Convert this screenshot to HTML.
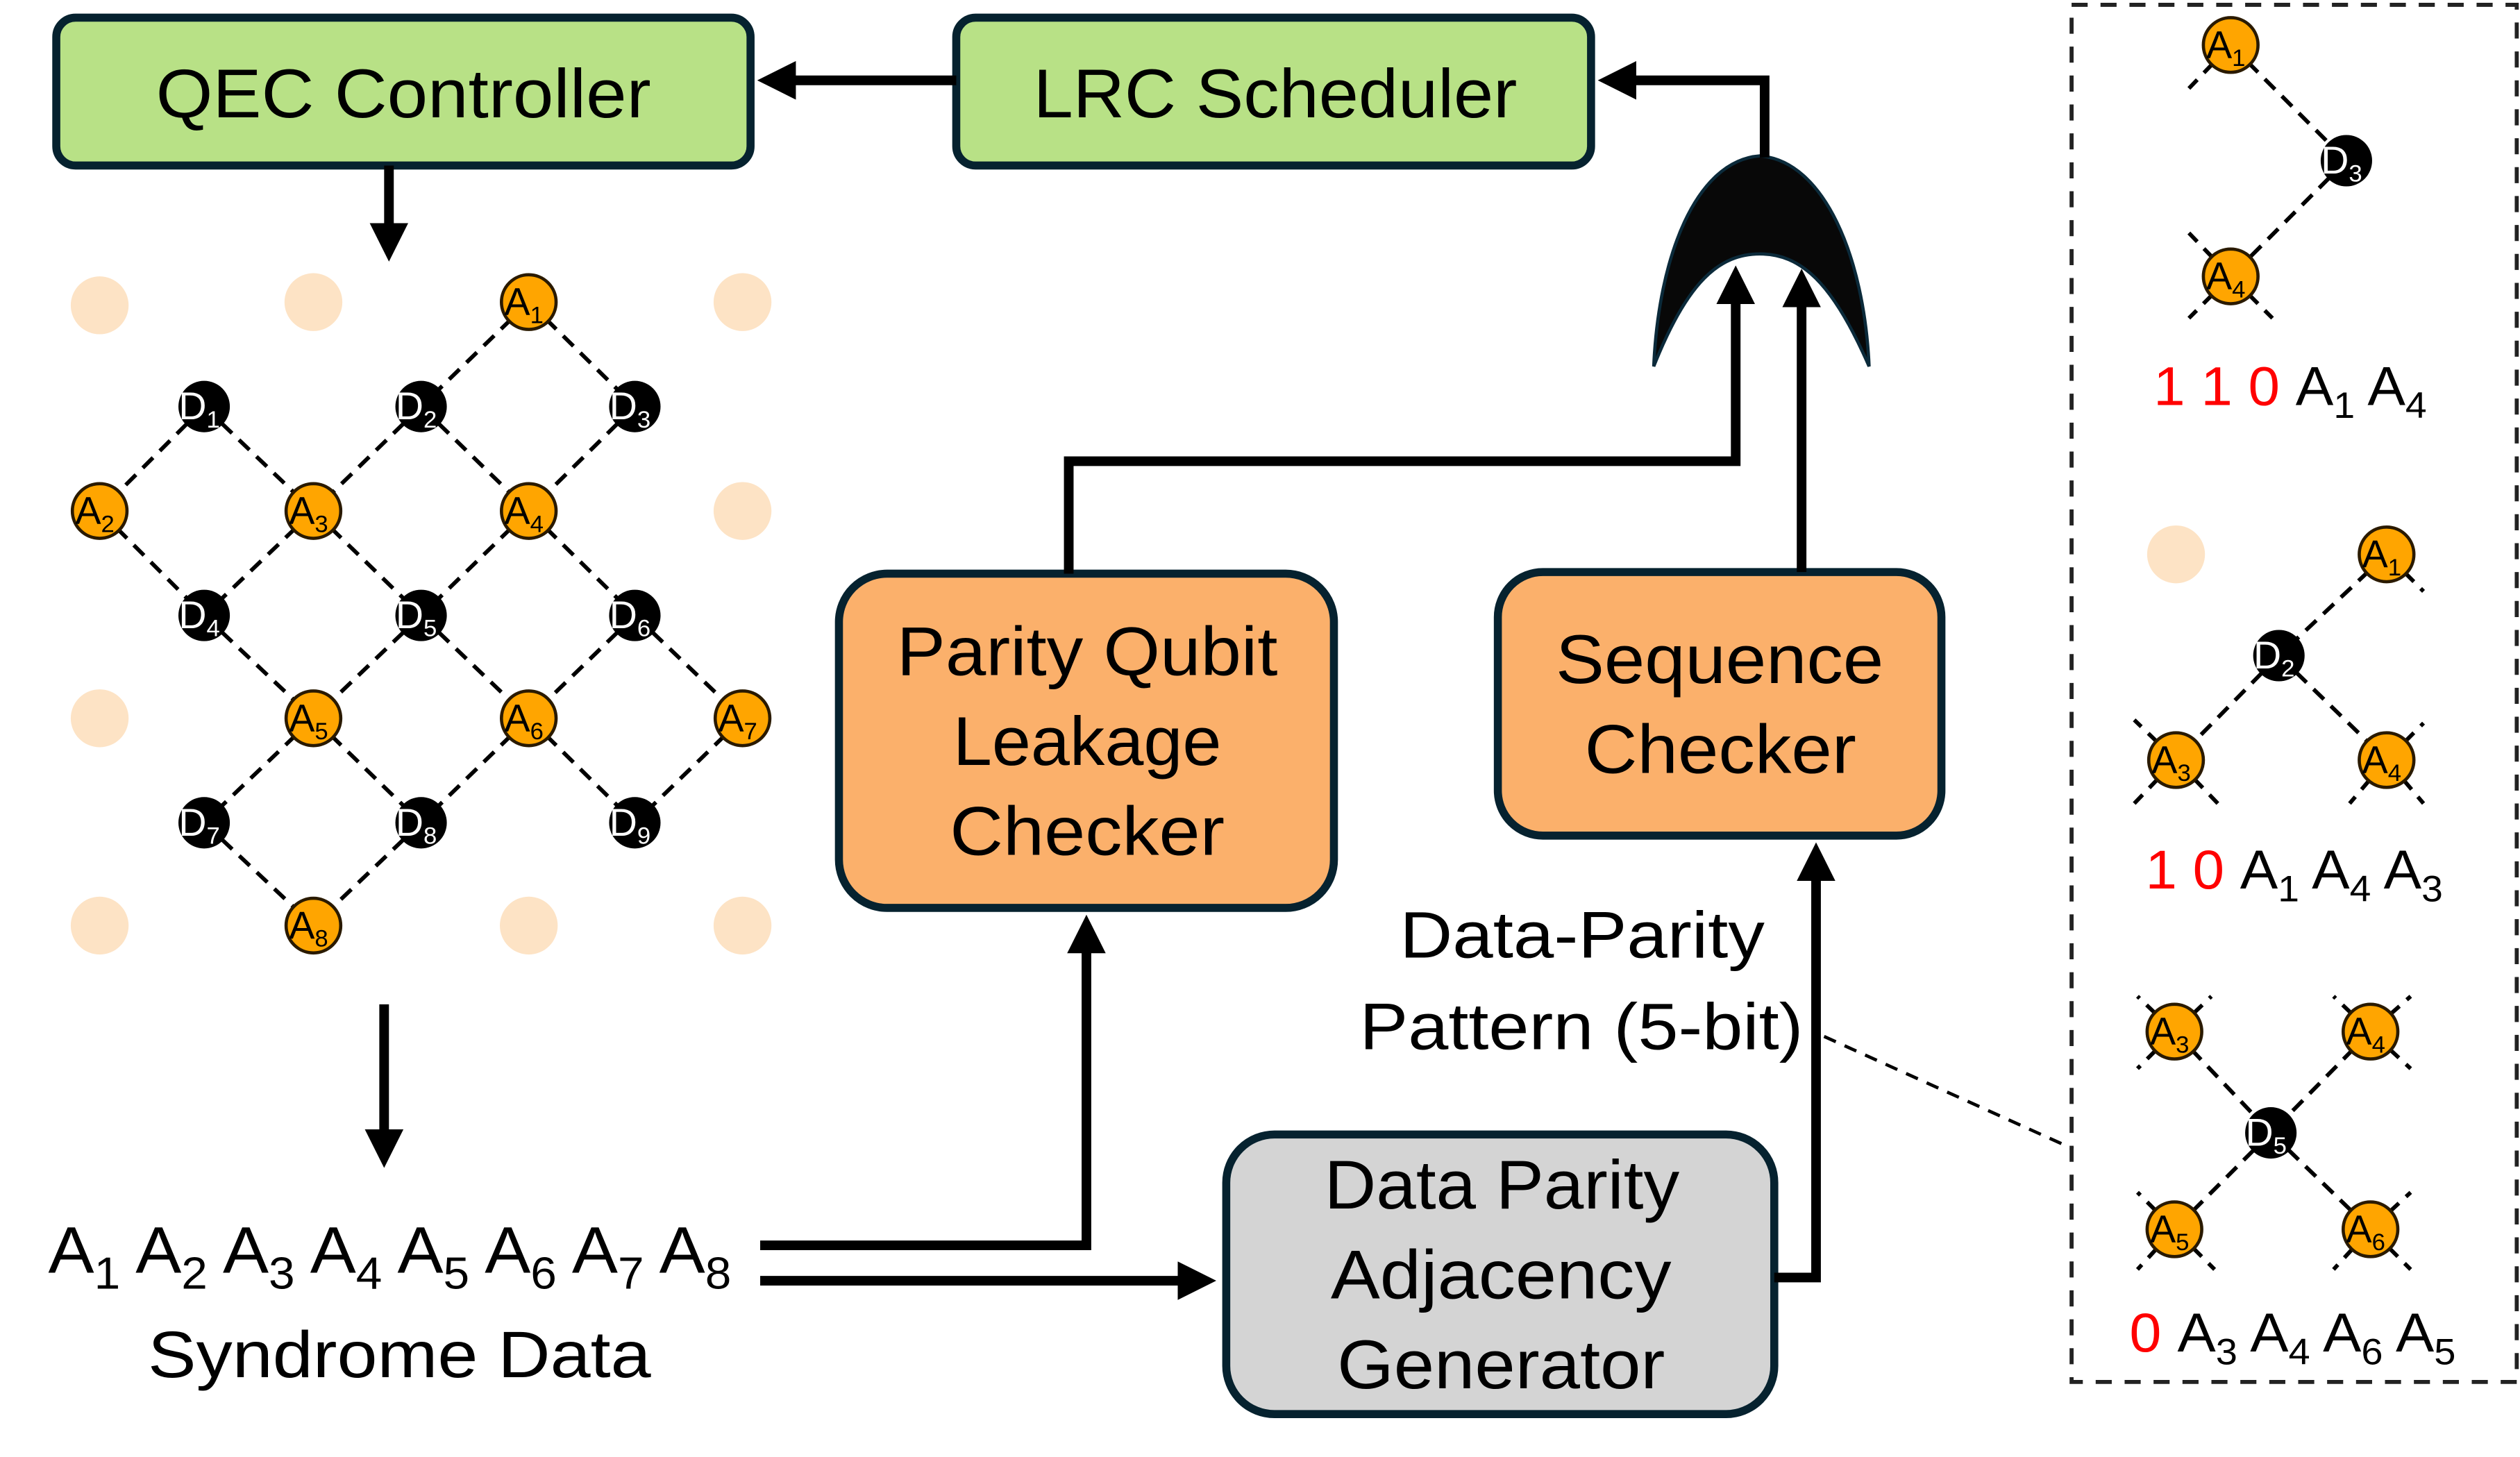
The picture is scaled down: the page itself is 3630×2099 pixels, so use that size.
<!DOCTYPE html>
<html><head><meta charset="utf-8"><style>
html,body{margin:0;padding:0;background:#fff;}
svg{display:block;}
text{font-family:"Liberation Sans",sans-serif;}
</style></head><body>
<svg width="3630" height="2099" viewBox="0 0 1568 906.7" xmlns="http://www.w3.org/2000/svg">
<defs>
<marker id="ah" markerWidth="4" markerHeight="4" refX="2.2" refY="2" orient="auto" markerUnits="strokeWidth"><path d="M0,0 L4,2 L0,4 z" fill="#000"/></marker>
</defs>
<!-- boxes -->
<rect x="35" y="11" width="432" height="92" rx="12" fill="#b8e186" stroke="#06222f" stroke-width="5"/>
<text x="97" y="73" font-size="43" textLength="308" lengthAdjust="spacingAndGlyphs">QEC Controller</text>
<rect x="595" y="11" width="395" height="92" rx="12" fill="#b8e186" stroke="#06222f" stroke-width="5"/>
<text x="643" y="73" font-size="43" textLength="301" lengthAdjust="spacingAndGlyphs">LRC Scheduler</text>
<rect x="522" y="357" width="308" height="208" rx="30" fill="#fbb06b" stroke="#06222f" stroke-width="5"/>
<text x="558" y="420" font-size="43" textLength="237" lengthAdjust="spacingAndGlyphs">Parity Qubit</text>
<text x="593" y="476" font-size="43" textLength="167" lengthAdjust="spacingAndGlyphs">Leakage</text>
<text x="591" y="532" font-size="43" textLength="171" lengthAdjust="spacingAndGlyphs">Checker</text>
<rect x="932" y="356" width="276" height="164" rx="28" fill="#fbb06b" stroke="#06222f" stroke-width="5"/>
<text x="968" y="425" font-size="43" textLength="204" lengthAdjust="spacingAndGlyphs">Sequence</text>
<text x="986" y="481" font-size="43" textLength="169" lengthAdjust="spacingAndGlyphs">Checker</text>
<rect x="763" y="706" width="341" height="174" rx="30" fill="#d4d4d4" stroke="#06222f" stroke-width="5"/>
<text x="824" y="752" font-size="43" textLength="221" lengthAdjust="spacingAndGlyphs">Data Parity</text>
<text x="828" y="808" font-size="43" textLength="212" lengthAdjust="spacingAndGlyphs">Adjacency</text>
<text x="832" y="864" font-size="43" textLength="204" lengthAdjust="spacingAndGlyphs">Generator</text>
<!-- OR gate -->
<path d="M1095,97 C1135,100 1160,160 1163,228 C1140,175 1120,158 1095,158 C1070,158 1050,175 1029,228 C1032,160 1055,100 1095,97 z" fill="#080808" stroke="#0b2a3a" stroke-width="2"/>
<!-- connectors -->
<g stroke="#000" stroke-width="6" fill="none">
<line x1="595" y1="50" x2="482" y2="50" marker-end="url(#ah)"/>
<polyline points="1098,98 1098,50 1005,50" marker-end="url(#ah)"/>
<polyline points="665,357 665,287 1080,287 1080,176" marker-end="url(#ah)"/>
<line x1="1121" y1="356" x2="1121" y2="178" marker-end="url(#ah)"/>
<polyline points="1104,795 1130,795 1130,535" marker-end="url(#ah)"/>
<line x1="242" y1="103" x2="242" y2="152" marker-end="url(#ah)"/>
<line x1="239" y1="625" x2="239" y2="716" marker-end="url(#ah)"/>
<polyline points="473,775 676,775 676,580" marker-end="url(#ah)"/>
<line x1="473" y1="797" x2="746" y2="797" marker-end="url(#ah)"/>
</g>
<text x="871" y="596" font-size="41" textLength="227" lengthAdjust="spacingAndGlyphs">Data-Parity</text>
<text x="846" y="653" font-size="41" textLength="276" lengthAdjust="spacingAndGlyphs">Pattern (5-bit)</text>
<line x1="1135" y1="645" x2="1290" y2="715" stroke="#000" stroke-width="2" stroke-dasharray="8,6"/>
<!-- syndrome text -->
<text x="30" y="792" font-size="41" textLength="425" lengthAdjust="spacingAndGlyphs">A<tspan font-size="28" dy="10">1</tspan><tspan dy="-10"> A</tspan><tspan font-size="28" dy="10">2</tspan><tspan dy="-10"> A</tspan><tspan font-size="28" dy="10">3</tspan><tspan dy="-10"> A</tspan><tspan font-size="28" dy="10">4</tspan><tspan dy="-10"> A</tspan><tspan font-size="28" dy="10">5</tspan><tspan dy="-10"> A</tspan><tspan font-size="28" dy="10">6</tspan><tspan dy="-10"> A</tspan><tspan font-size="28" dy="10">7</tspan><tspan dy="-10"> A</tspan><tspan font-size="28" dy="10">8</tspan></text>
<text x="92" y="857" font-size="41" textLength="313" lengthAdjust="spacingAndGlyphs">Syndrome Data</text>
<!-- lattice edges -->
<g stroke="#000" stroke-width="2.5" stroke-dasharray="9,6">
<line x1="329" y1="188" x2="262" y2="253"/><line x1="329" y1="188" x2="395" y2="253"/>
<line x1="127" y1="253" x2="62" y2="318"/><line x1="127" y1="253" x2="195" y2="318"/>
<line x1="262" y1="253" x2="195" y2="318"/><line x1="262" y1="253" x2="329" y2="318"/>
<line x1="395" y1="253" x2="329" y2="318"/>
<line x1="62" y1="318" x2="127" y2="383"/><line x1="195" y1="318" x2="127" y2="383"/>
<line x1="195" y1="318" x2="262" y2="383"/><line x1="329" y1="318" x2="262" y2="383"/>
<line x1="329" y1="318" x2="395" y2="383"/>
<line x1="127" y1="383" x2="195" y2="447"/><line x1="262" y1="383" x2="195" y2="447"/>
<line x1="262" y1="383" x2="329" y2="447"/><line x1="395" y1="383" x2="329" y2="447"/>
<line x1="395" y1="383" x2="462" y2="447"/>
<line x1="195" y1="447" x2="127" y2="512"/><line x1="195" y1="447" x2="262" y2="512"/>
<line x1="329" y1="447" x2="262" y2="512"/><line x1="329" y1="447" x2="395" y2="512"/>
<line x1="462" y1="447" x2="395" y2="512"/>
<line x1="127" y1="512" x2="195" y2="576"/><line x1="262" y1="512" x2="195" y2="576"/>
<!-- right panel edges -->
<line x1="1388" y1="28" x2="1460" y2="100"/><line x1="1460" y1="100" x2="1388" y2="172"/>
<line x1="1388" y1="28" x2="1362" y2="55"/><line x1="1388" y1="172" x2="1362" y2="145"/>
<line x1="1388" y1="172" x2="1362" y2="198"/><line x1="1388" y1="172" x2="1414" y2="198"/>
<line x1="1485" y1="345" x2="1418" y2="408"/><line x1="1418" y1="408" x2="1354" y2="473"/><line x1="1418" y1="408" x2="1485" y2="473"/>
<line x1="1485" y1="345" x2="1508" y2="368"/>
<line x1="1354" y1="473" x2="1328" y2="448"/><line x1="1354" y1="473" x2="1328" y2="500"/><line x1="1354" y1="473" x2="1380" y2="500"/>
<line x1="1485" y1="473" x2="1462" y2="500"/><line x1="1485" y1="473" x2="1508" y2="500"/><line x1="1485" y1="473" x2="1508" y2="450"/>
<line x1="1353" y1="642" x2="1413" y2="705"/><line x1="1475" y1="642" x2="1413" y2="705"/>
<line x1="1413" y1="705" x2="1353" y2="765"/><line x1="1413" y1="705" x2="1475" y2="765"/>
<line x1="1353" y1="642" x2="1330" y2="620"/><line x1="1353" y1="642" x2="1376" y2="620"/><line x1="1353" y1="642" x2="1330" y2="665"/>
<line x1="1475" y1="642" x2="1452" y2="620"/><line x1="1475" y1="642" x2="1500" y2="620"/><line x1="1475" y1="642" x2="1500" y2="665"/>
<line x1="1353" y1="765" x2="1330" y2="742"/><line x1="1353" y1="765" x2="1330" y2="790"/><line x1="1353" y1="765" x2="1378" y2="790"/>
<line x1="1475" y1="765" x2="1500" y2="742"/><line x1="1475" y1="765" x2="1452" y2="790"/><line x1="1475" y1="765" x2="1500" y2="790"/>
</g>
<!-- faded -->
<g fill="#fde3c5">
<circle cx="62" cy="190" r="18"/><circle cx="195" cy="188" r="18"/><circle cx="462" cy="188" r="18"/>
<circle cx="462" cy="318" r="18"/><circle cx="62" cy="447" r="18"/><circle cx="62" cy="576" r="18"/>
<circle cx="329" cy="576" r="18"/><circle cx="462" cy="576" r="18"/><circle cx="1354" cy="345" r="18"/>
</g>
<!-- nodes -->
<g font-size="24" text-anchor="middle">
<g fill="#ffa500" stroke="#2a1a00" stroke-width="2">
<circle cx="329" cy="188" r="17"/><circle cx="62" cy="318" r="17"/><circle cx="195" cy="318" r="17"/><circle cx="329" cy="318" r="17"/>
<circle cx="195" cy="447" r="17"/><circle cx="329" cy="447" r="17"/><circle cx="462" cy="447" r="17"/><circle cx="195" cy="576" r="17"/>
<circle cx="1388" cy="28" r="17"/><circle cx="1388" cy="172" r="17"/>
<circle cx="1485" cy="345" r="17"/><circle cx="1354" cy="473" r="17"/><circle cx="1485" cy="473" r="17"/>
<circle cx="1353" cy="642" r="17"/><circle cx="1475" cy="642" r="17"/><circle cx="1353" cy="765" r="17"/><circle cx="1475" cy="765" r="17"/>
</g>
<g fill="#000">
<circle cx="127" cy="253" r="16"/><circle cx="262" cy="253" r="16"/><circle cx="395" cy="253" r="16"/>
<circle cx="127" cy="383" r="16"/><circle cx="262" cy="383" r="16"/><circle cx="395" cy="383" r="16"/>
<circle cx="127" cy="512" r="16"/><circle cx="262" cy="512" r="16"/><circle cx="395" cy="512" r="16"/>
<circle cx="1460" cy="100" r="16"/><circle cx="1418" cy="408" r="16"/><circle cx="1413" cy="705" r="16"/>
</g>
<g fill="#000">
<text x="326" y="196">A<tspan font-size="15" dy="5">1</tspan></text>
<text x="59" y="326">A<tspan font-size="15" dy="5">2</tspan></text>
<text x="192" y="326">A<tspan font-size="15" dy="5">3</tspan></text>
<text x="326" y="326">A<tspan font-size="15" dy="5">4</tspan></text>
<text x="192" y="455">A<tspan font-size="15" dy="5">5</tspan></text>
<text x="326" y="455">A<tspan font-size="15" dy="5">6</tspan></text>
<text x="459" y="455">A<tspan font-size="15" dy="5">7</tspan></text>
<text x="192" y="584">A<tspan font-size="15" dy="5">8</tspan></text>
<text x="1385" y="36">A<tspan font-size="15" dy="5">1</tspan></text>
<text x="1385" y="180">A<tspan font-size="15" dy="5">4</tspan></text>
<text x="1482" y="353">A<tspan font-size="15" dy="5">1</tspan></text>
<text x="1351" y="481">A<tspan font-size="15" dy="5">3</tspan></text>
<text x="1482" y="481">A<tspan font-size="15" dy="5">4</tspan></text>
<text x="1350" y="650">A<tspan font-size="15" dy="5">3</tspan></text>
<text x="1472" y="650">A<tspan font-size="15" dy="5">4</tspan></text>
<text x="1350" y="773">A<tspan font-size="15" dy="5">5</tspan></text>
<text x="1472" y="773">A<tspan font-size="15" dy="5">6</tspan></text>
</g>
<g fill="#fff">
<text x="124" y="261">D<tspan font-size="15" dy="5">1</tspan></text>
<text x="259" y="261">D<tspan font-size="15" dy="5">2</tspan></text>
<text x="392" y="261">D<tspan font-size="15" dy="5">3</tspan></text>
<text x="124" y="391">D<tspan font-size="15" dy="5">4</tspan></text>
<text x="259" y="391">D<tspan font-size="15" dy="5">5</tspan></text>
<text x="392" y="391">D<tspan font-size="15" dy="5">6</tspan></text>
<text x="124" y="520">D<tspan font-size="15" dy="5">7</tspan></text>
<text x="259" y="520">D<tspan font-size="15" dy="5">8</tspan></text>
<text x="392" y="520">D<tspan font-size="15" dy="5">9</tspan></text>
<text x="1457" y="108">D<tspan font-size="15" dy="5">3</tspan></text>
<text x="1415" y="416">D<tspan font-size="15" dy="5">2</tspan></text>
<text x="1410" y="713">D<tspan font-size="15" dy="5">5</tspan></text>
</g>
</g>
<!-- right panel -->
<rect x="1289" y="3" width="277" height="857" fill="none" stroke="#222" stroke-width="2.5" stroke-dasharray="10,8"/>
<g font-size="34">
<text x="1340" y="252" textLength="170" lengthAdjust="spacingAndGlyphs"><tspan fill="#f00">1 1 0 </tspan>A<tspan font-size="23" dy="8">1</tspan><tspan dy="-8"> A</tspan><tspan font-size="23" dy="8">4</tspan></text>
<text x="1335" y="553" textLength="185" lengthAdjust="spacingAndGlyphs"><tspan fill="#f00">1 0 </tspan>A<tspan font-size="23" dy="8">1</tspan><tspan dy="-8"> A</tspan><tspan font-size="23" dy="8">4</tspan><tspan dy="-8"> A</tspan><tspan font-size="23" dy="8">3</tspan></text>
<text x="1325" y="841" textLength="203" lengthAdjust="spacingAndGlyphs"><tspan fill="#f00">0 </tspan>A<tspan font-size="23" dy="8">3</tspan><tspan dy="-8"> A</tspan><tspan font-size="23" dy="8">4</tspan><tspan dy="-8"> A</tspan><tspan font-size="23" dy="8">6</tspan><tspan dy="-8"> A</tspan><tspan font-size="23" dy="8">5</tspan></text>
</g>
</svg>
</body></html>
